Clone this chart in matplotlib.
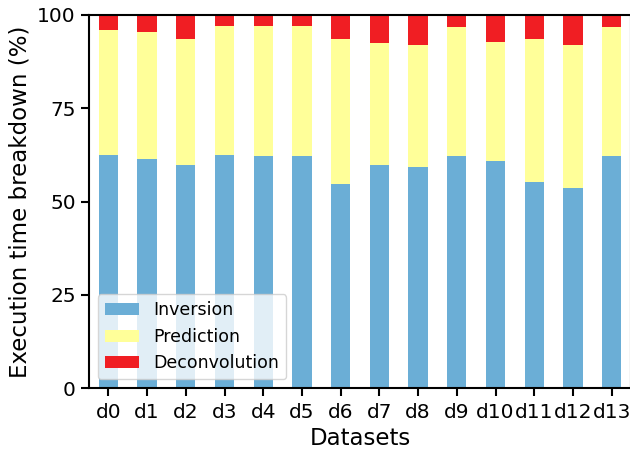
import matplotlib
matplotlib.use("agg")
import matplotlib.pyplot as plt
import numpy as np

datasets = ["d%d" % i for i in range(14)]
inversion = [62.5, 61.4, 59.8, 62.5, 62.2, 62.2, 54.7, 59.8, 59.2, 62.2, 60.9, 55.2, 53.6, 62.2]
# cumulative top of prediction segment
pred_top = [96.0, 95.4, 93.6, 97.1, 97.1, 97.1, 93.6, 92.5, 92.0, 96.8, 92.8, 93.6, 92.0, 96.8]
prediction = [t - i for t, i in zip(pred_top, inversion)]
deconvolution = [100 - t for t in pred_top]

plt.rcParams["font.family"] = "DejaVu Sans"
fig = plt.figure(figsize=(6.3, 4.62), dpi=100)
ax = fig.add_axes([89 / 630, 1 - 388 / 462, 542 / 630, 373 / 462])

x = np.arange(len(datasets))
w = 0.5
ax.bar(x, inversion, w, color="#6baed6", label="Inversion")
ax.bar(x, prediction, w, bottom=inversion, color="#ffff99", label="Prediction")
ax.bar(x, deconvolution, w, bottom=pred_top, color="#f01e23", label="Deconvolution")

ax.set_xlim(-0.5, 13.5)
ax.set_ylim(0, 100)
ax.set_yticks([0, 25, 50, 75, 100])
ax.set_xticks(x)
ax.set_xticklabels(datasets)
ax.tick_params(labelsize=14.5, width=1.5, length=6)
ax.tick_params(axis="x", pad=4.5)
for s in ax.spines.values():
    s.set_linewidth(1.5)
ax.set_xlabel("Datasets", fontsize=16.5)
ax.set_ylabel("Execution time breakdown (%)", fontsize=16.5)
ax.legend(loc="lower left", fontsize=12.5, framealpha=0.8)

fig.savefig("out.png", dpi=100)
